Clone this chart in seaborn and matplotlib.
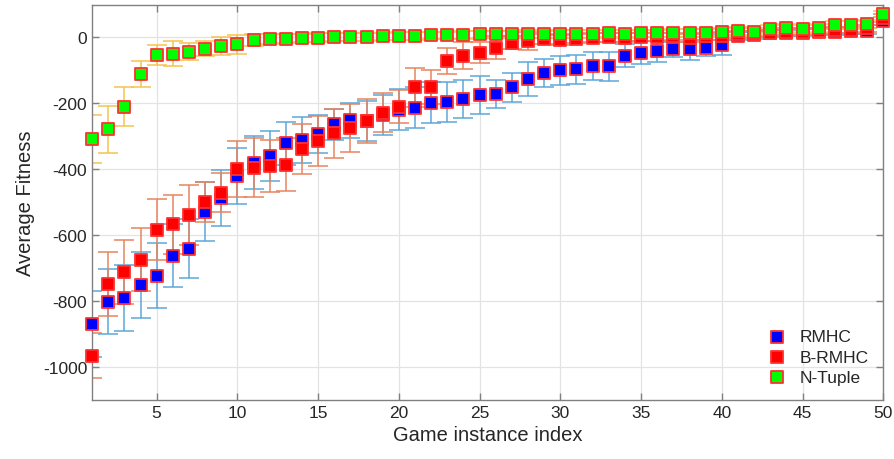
import numpy as np
import pandas as pd
import matplotlib
matplotlib.use("Agg")
import matplotlib.pyplot as plt
import seaborn as sns

# Dados
indices = list(range(1, 51))

rmhc_media = [-870, -802, -791, -752, -723, -663, -642, -529, -489, -420,
              -380, -360, -322, -312, -294, -264, -252, -254, -235, -220,
              -213, -198, -196, -188, -175, -171, -152, -127, -108, -100,
              -96, -87, -87, -55, -46, -42, -36, -34, -31, -23,
              4, 6, 12, 14, 15, 17, 18, 20, 19, 49]
rmhc_erro = [100, 100, 100, 100, 98, 96, 90, 90, 85, 85,
             80, 77, 66, 70, 57, 48, 53, 60, 60, 62,
             63, 62, 61, 58, 57, 42, 43, 51, 44, 44,
             44, 43, 44, 36, 35, 32, 22, 36, 24, 29,
             12, 10, 10, 10, 10, 10, 10, 10, 10, 12]

brmhc_media = [-966, -749, -711, -675, -584, -567, -539, -499, -471, -400,
               -395, -390, -386, -339, -314, -291, -274, -254, -228, -211,
               -152, -151, -72, -55, -46, -31, -16, -11, -6, -7,
               -4, -1, 0, -1, 0, 1, 3, -1, 3, 5,
               9, 10, 14, 18, 18, 20, 22, 22, 28, 60]
brmhc_erro = [67, 97, 97, 95, 92, 90, 90, 60, 60, 85,
              90, 80, 80, 75, 76, 75, 73, 68, 60, 50,
              60, 51, 40, 40, 33, 35, 20, 27, 15, 15,
              14, 14, 13, 13, 12, 12, 12, 12, 12, 12,
              10, 10, 10, 10, 10, 10, 10, 10, 10, 12]

ntuple_media = [-309, -279, -210, -111, -54, -49, -43, -34, -26, -21,
                -8, -6, -4, -2, -1, 0, 1, 2, 3, 4,
                5, 6, 6, 7, 9, 9, 9, 10, 9, 10,
                11, 11, 12, 11, 12, 12, 13, 14, 14, 17,
                20, 18, 26, 28, 27, 29, 37, 37, 42, 71]
ntuple_erro = [72, 71, 60, 40, 31, 38, 25, 22, 28, 28,
               19, 15, 14, 13, 13, 12, 12, 12, 12, 12,
               12, 12, 12, 12, 12, 12, 12, 12, 12, 12,
               12, 12, 12, 12, 12, 12, 12, 12, 12, 12,
               12, 12, 12, 12, 12, 12, 12, 12, 12, 10]

series = [
    ("RMHC", rmhc_media, rmhc_erro, "#0000ff", "#5aa5d8"),
    ("B-RMHC", brmhc_media, brmhc_erro, "#ff0000", "#e8825c"),
    ("N-Tuple", ntuple_media, ntuple_erro, "#00ff00", "#f5c24c"),
]

sns.set_theme(style="whitegrid")
plt.rcParams['font.family'] = ['Liberation Sans', 'DejaVu Sans']
plt.rcParams['axes.unicode_minus'] = False

fig = plt.figure(figsize=(8.94, 4.6), dpi=100)
ax = fig.add_axes([0.103, 0.129, 0.885, 0.859])

for nome, media, erro, cor, cor_erro in series:
    df = pd.DataFrame({"x": indices, "y": media, "e": erro})
    ax.errorbar(df["x"], df["y"], yerr=df["e"], fmt="none", ecolor=cor_erro,
                elinewidth=1.2, capsize=7, capthick=1.2, alpha=0.9, zorder=2)
    sns.scatterplot(data=df, x="x", y="y", ax=ax, marker="s", s=68,
                    color=cor, edgecolor="#ff3030", linewidth=1.3,
                    label=nome, zorder=3, clip_on=False)

ax.set_xlim(1, 50)
ax.set_ylim(-1100, 100)
ax.set_xticks(range(5, 51, 5))
ax.set_yticks(range(-1000, 1, 200))
ax.set_xlabel("Game instance index", fontsize=14.5, color="#262626")
ax.set_ylabel("Average Fitness", fontsize=14.5, color="#262626", labelpad=6)
ax.tick_params(axis="both", direction="in", length=5, width=1, colors="#808080",
               labelsize=12.5, labelcolor="#262626", top=True, right=True,
               bottom=True, left=True)
ax.grid(True, color="#e3e3e3", linewidth=0.9)
for s in ax.spines.values():
    s.set_color("#808080")
    s.set_linewidth(1)

leg = ax.legend(loc="lower right", frameon=False, fontsize=12.5,
                handlelength=1.2, handletextpad=0.7, labelspacing=0.3,
                borderaxespad=0.45)

fig.savefig("out.png", dpi=100)
